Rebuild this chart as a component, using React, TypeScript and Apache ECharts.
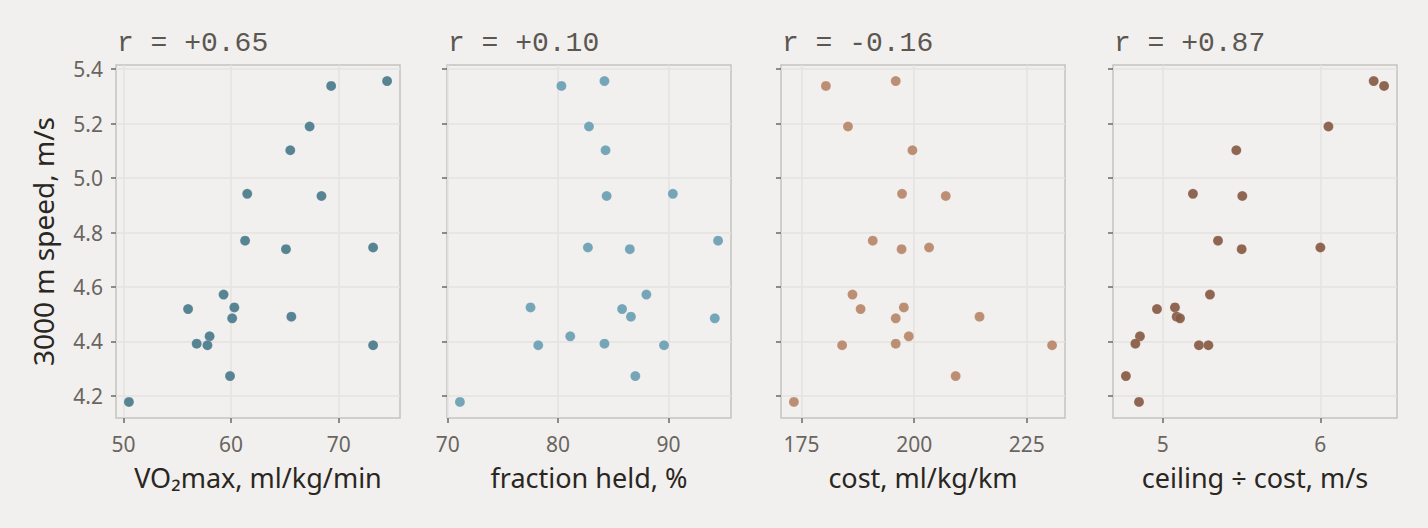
import { useEffect, useRef } from 'react'
import * as echarts from 'echarts'

// 3000 m speed per athlete (m/s), shared y for all four panels
const speed = [5.356, 5.338, 5.189, 5.102, 4.942, 4.934, 4.77, 4.745, 4.739, 4.572, 4.525, 4.519, 4.491, 4.485, 4.419, 4.392, 4.386, 4.386, 4.273, 4.178]

const vo2max = [74.5, 69.3, 67.3, 65.5, 61.5, 68.4, 61.3, 73.2, 65.1, 59.3, 60.3, 56.0, 65.6, 60.1, 58.0, 56.8, 57.8, 73.2, 59.9, 50.5]
const fractionHeld = [84.2, 80.3, 82.8, 84.3, 90.4, 84.4, 94.5, 82.7, 86.5, 88.0, 77.5, 85.8, 86.6, 94.2, 81.1, 84.2, 78.2, 89.6, 87.0, 71.1]
const cost = [195.9, 180.4, 185.3, 199.6, 197.3, 207.0, 190.8, 203.3, 197.2, 186.3, 197.7, 188.1, 214.5, 195.9, 198.8, 195.9, 184.0, 230.6, 209.2, 173.3]
const ceilingOverCost = [6.338, 6.404, 6.051, 5.467, 5.192, 5.505, 5.351, 6.0, 5.501, 5.3, 5.078, 4.964, 5.089, 5.11, 4.856, 4.827, 5.23, 5.29, 4.767, 4.85]

const panelTitles = ['r = +0.65', 'r = +0.10', 'r = -0.16', 'r = +0.87']
const xNames = ['VO₂max, ml/kg/min', 'fraction held, %', 'cost, ml/kg/km', 'ceiling ÷ cost, m/s']
const xTicks = [
  [50, 60, 70],
  [70, 80, 90],
  [175, 200, 225],
  [5, 6],
]
const yTicks = [4.2, 4.4, 4.6, 4.8, 5.0, 5.2, 5.4]
const yName = '3000 m speed, m/s'

const colors = ['#4a7b8b', '#6a9fb2', '#b7876a', '#875a44']

const BG = '#f1f0ee'
const SANS = '"Noto Sans", "Open Sans", sans-serif'
const MONO = '"Liberation Mono", "DejaVu Sans Mono", monospace'

// matplotlib-style 5% padding
function padded(vals: number[]) {
  const lo = Math.min(...vals)
  const hi = Math.max(...vals)
  const p = (hi - lo) * 0.05
  return { min: lo - p, max: hi + p }
}

export default function App() {
  const ref = useRef<HTMLDivElement>(null)

  useEffect(() => {
    if (!ref.current) return
    document.body.style.margin = '0'
    document.body.style.background = BG
    const chart = echarts.init(ref.current, null, { renderer: 'svg' })

    const xs = [vo2max, fractionHeld, cost, ceilingOverCost]
    const lefts = [116, 447, 781, 1113]
    const yr = padded(speed)

    const tickStyle = { show: true, inside: false, length: 5, lineStyle: { color: '#6d6965', width: 1.5 } }
    const gridLine = { show: true, lineStyle: { color: '#e4e3e0', width: 1.5 } }

    const option: any = {
      animation: false,
      backgroundColor: BG,
      title: panelTitles.map((t, i) => ({
        text: t,
        left: lefts[i] - 4,
        top: 24,
        textStyle: { fontFamily: MONO, fontSize: 28, fontWeight: 'normal', color: '#5c5751' },
      })),
      grid: lefts.map((l) => ({
        left: l,
        top: 65,
        width: 284,
        height: 353,
        show: true,
        borderColor: '#c3c2bf',
        borderWidth: 1.5,
        backgroundColor: 'transparent',
      })),
      xAxis: xs.map((vals, i) => {
        const r = padded(vals)
        return {
          type: 'value',
          gridIndex: i,
          min: r.min,
          max: r.max,
          name: xNames[i],
          nameLocation: 'middle',
          nameGap: 46,
          nameTextStyle: { fontFamily: SANS, fontSize: 27, color: '#2a2622' },
          axisLine: { show: false },
          axisTick: { ...tickStyle, customValues: xTicks[i] },
          axisLabel: {
            customValues: xTicks[i],
            margin: 15,
            fontFamily: SANS,
            fontSize: 21,
            color: '#6a6560',
          },
          splitLine: gridLine,
        }
      }),
      yAxis: xs.map((_, i) => ({
        type: 'value',
        gridIndex: i,
        min: yr.min,
        max: yr.max,
        name: i === 0 ? yName : '',
        nameLocation: 'middle',
        nameGap: 59,
        nameTextStyle: { fontFamily: SANS, fontSize: 28, color: '#2a2622' },
        axisLine: { show: false },
        axisTick: { ...tickStyle, customValues: yTicks },
        axisLabel: {
          show: i === 0,
          customValues: yTicks,
          margin: 13,
          fontFamily: SANS,
          fontSize: 21,
          color: '#6a6560',
          formatter: (v: number) => v.toFixed(1),
        },
        splitLine: gridLine,
      })),
      series: xs.map((vals, i) => ({
        type: 'scatter',
        xAxisIndex: i,
        yAxisIndex: i,
        symbolSize: 10,
        itemStyle: { color: colors[i], opacity: 0.92, borderColor: 'rgba(255,255,255,0.35)', borderWidth: 0.5 },
        data: vals.map((x, k) => [x, speed[k]]),
      })),
    }

    chart.setOption(option)
    return () => chart.dispose()
  }, [])

  return <div ref={ref} style={{ width: 1428, height: 528 }} />
}
